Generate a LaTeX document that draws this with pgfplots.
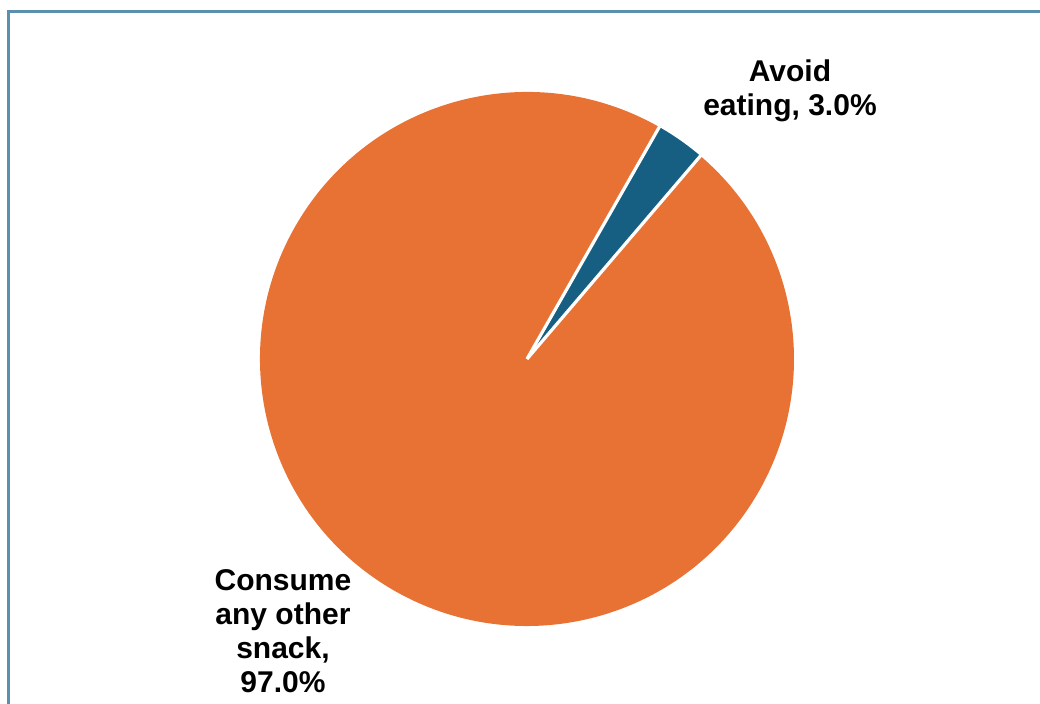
\documentclass[border=0pt]{standalone}
\usepackage{pgfplots}
\pgfplotsset{compat=1.18}
\usepackage{pgfplotstable}
\usepackage{fontspec}
\setmainfont{Liberation Sans}
\definecolor{pieorange}{HTML}{E87234}
\definecolor{pieblue}{HTML}{165F82}
\definecolor{framec}{HTML}{5B8FAE}

\pgfplotstableread{
label value
Avoid 3.0
Other 97.0
}\piedata

\begin{document}
\begin{tikzpicture}[x=1pt,y=1pt]
\useasboundingbox (0,0) rectangle (520,352);
\begin{scope}
\clip (0,0) rectangle (520,352);
\draw[framec, line width=1.5pt] (4,-10) -- (4,346) -- (530,346);
\end{scope}
\pgfplotstablegetelem{0}{value}\of\piedata \let\va\pgfplotsretval
\pgfplotstablegetelem{1}{value}\of\piedata \let\vb\pgfplotsretval
\pgfmathsetmacro{\sa}{49.5}
\pgfmathsetmacro{\ea}{\sa+3.6*\va}
\pgfmathsetmacro{\eb}{\ea+3.6*\vb}
\begin{axis}[at={(263.5pt,172.5pt)}, anchor=origin, x=133.5pt, y=133.5pt,
  xmin=-1,xmax=1,ymin=-1,ymax=1, hide axis, scale only axis, clip=false]
\fill[pieblue] (axis cs:0,0) -- (axis cs:{cos(\sa)},{sin(\sa)})
   arc[start angle=\sa, end angle=\ea, radius=133.5pt] -- cycle;
\fill[pieorange] (axis cs:0,0) -- (axis cs:{cos(\ea)},{sin(\ea)})
   arc[start angle=\ea, end angle=\eb, radius=133.5pt] -- cycle;
\draw[white, line width=1.6pt] (axis cs:0,0) -- (axis cs:{1.01*cos(\sa)},{1.01*sin(\sa)});
\draw[white, line width=1.6pt] (axis cs:0,0) -- (axis cs:{1.01*cos(\ea)},{1.01*sin(\ea)});
\end{axis}
\node[font=\bfseries\fontsize{15}{17}\selectfont, align=center] at (395,306.5) {Avoid\\eating, 3.0\%};
\node[font=\bfseries\fontsize{15}{17}\selectfont, align=center] at (141.5,36.3) {Consume\\any other\\snack,\\97.0\%};
\end{tikzpicture}
\end{document}
